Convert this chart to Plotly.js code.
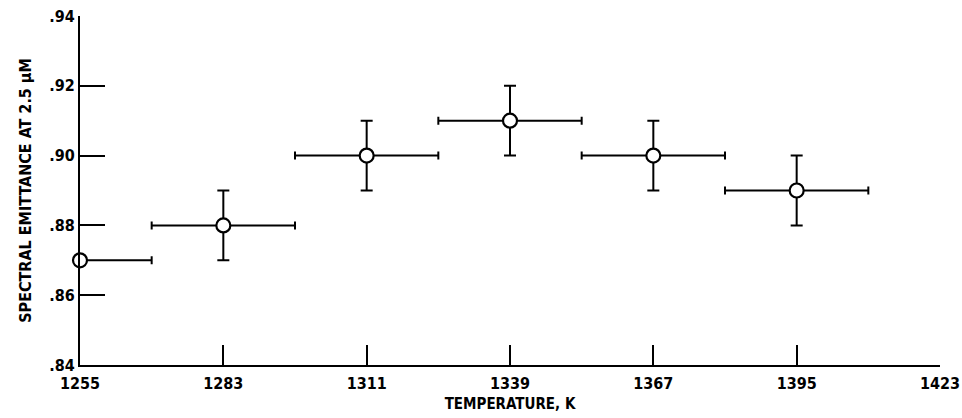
<!DOCTYPE html>
<html>
<head>
<meta charset="utf-8">
<script src="https://cdn.plot.ly/plotly-3.0.1.min.js"></script>
<style>
  html, body { margin: 0; padding: 0; background: #fff; }
  #chart { width: 962px; height: 418px; }
</style>
</head>
<body>
<div id="chart"></div>
<script>
// Data
var temperature = [1255, 1283, 1311, 1339, 1367, 1395];
var emittance   = [0.87, 0.88, 0.90, 0.91, 0.90, 0.89];
var tempErrPlus  = [14, 14, 14, 14, 14, 14];
var tempErrMinus = [0, 14, 14, 14, 14, 14];
var emitErr      = [0, 0.01, 0.01, 0.01, 0.01, 0.01];

var xTickVals = [1255, 1283, 1311, 1339, 1367, 1395, 1423];
var xTickText = ['1255', '1283', '1311', '1339', '1367', '1395', '1423'];
var yTickVals = [0.84, 0.86, 0.88, 0.90, 0.92, 0.94];
var yTickText = ['.84', '.86', '.88', '.90', '.92', '.94'];

var FONT = '"DejaVu Sans Condensed", "DejaVu Sans", sans-serif';

var trace = {
  x: temperature,
  y: emittance,
  type: 'scatter',
  mode: 'markers',
  cliponaxis: false,
  marker: {
    symbol: 'circle',
    size: 14,
    color: '#ffffff',
    line: { color: '#000000', width: 2.2 }
  },
  error_x: {
    type: 'data',
    symmetric: false,
    array: tempErrPlus,
    arrayminus: tempErrMinus,
    color: '#000000',
    thickness: 2,
    width: 4
  },
  error_y: {
    type: 'data',
    array: emitErr,
    color: '#000000',
    thickness: 2,
    width: 6
  },
  showlegend: false,
  hoverinfo: 'skip'
};

var layout = {
  width: 962,
  height: 418,
  margin: { l: 80, r: 22, t: 16, b: 53 },
  paper_bgcolor: '#ffffff',
  plot_bgcolor: '#ffffff',
  font: { family: FONT, color: '#000000', size: 16 },
  xaxis: {
    range: [1255, 1423],
    tickmode: 'array',
    tickvals: xTickVals,
    ticktext: xTickText,
    ticks: 'inside',
    ticklen: 20,
    tickwidth: 2,
    tickcolor: '#000000',
    ticklabelstandoff: 3,
    showline: true,
    linecolor: '#000000',
    linewidth: 2,
    showgrid: false,
    zeroline: false,
    mirror: false,
    tickfont: { family: FONT, size: 16, weight: 'bold', color: '#000000' },
    title: { text: 'TEMPERATURE, K', font: { family: FONT, size: 15, weight: 'bold', color: '#000000' }, standoff: 6 }
  },
  yaxis: {
    range: [0.84, 0.94],
    tickmode: 'array',
    tickvals: yTickVals,
    ticktext: yTickText,
    ticks: 'inside',
    ticklen: 25,
    tickwidth: 2,
    tickcolor: '#000000',
    showline: true,
    linecolor: '#000000',
    linewidth: 2,
    showgrid: false,
    zeroline: false,
    mirror: false,
    tickfont: { family: FONT, size: 16, weight: 'bold', color: '#000000' },
    title: { text: 'SPECTRAL EMITTANCE AT 2.5 \u00B5M', font: { family: FONT, size: 16, weight: 'bold', color: '#000000' }, standoff: 14 }
  }
};

Plotly.newPlot('chart', [trace], layout, { staticPlot: true, displayModeBar: false });
</script>
</body>
</html>
